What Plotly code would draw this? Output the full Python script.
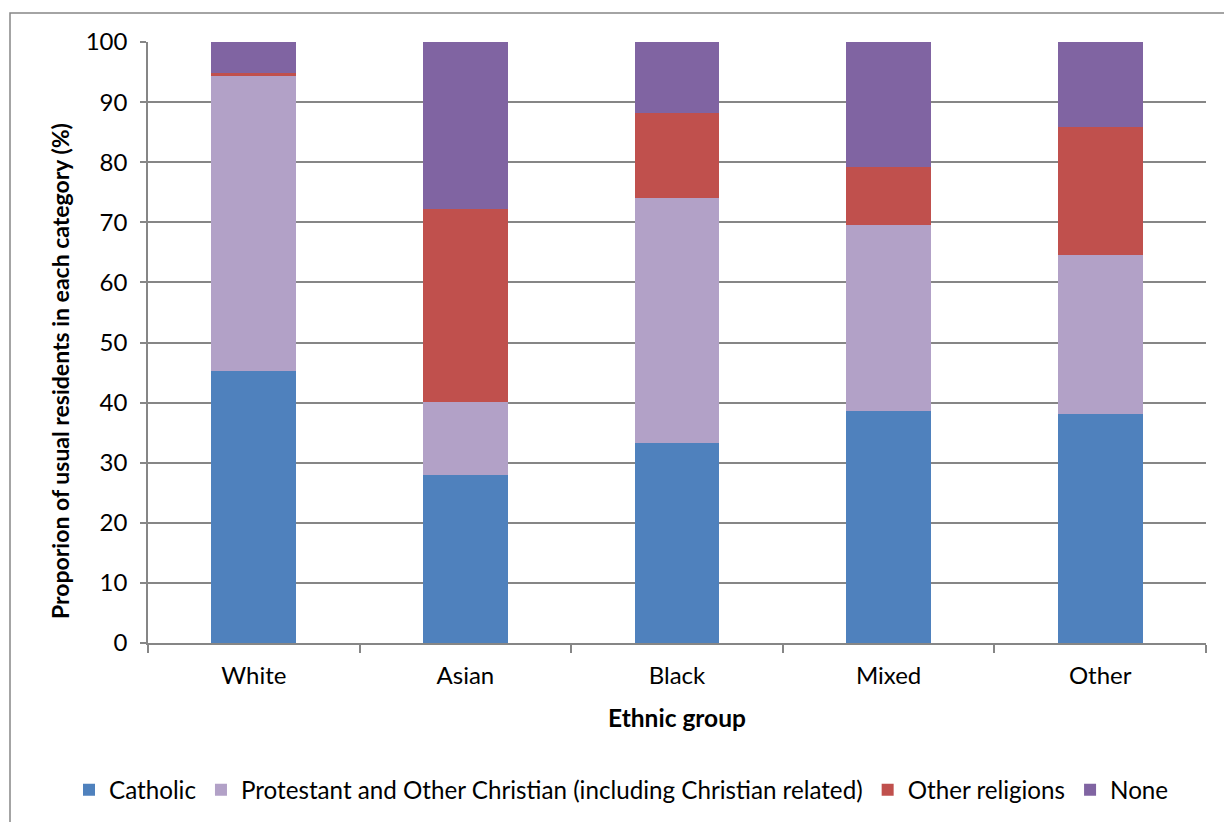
import plotly.graph_objects as go

groups = ["White", "Asian", "Black", "Mixed", "Other"]
catholic = [45.3, 28.0, 33.3, 38.6, 38.1]
protestant = [49.1, 12.1, 40.7, 31.0, 26.5]
other_rel = [0.5, 32.1, 14.2, 9.6, 21.3]
none = [5.1, 27.8, 11.8, 20.8, 14.1]

series = [
    ("Catholic", catholic, "#4F81BD"),
    ("Protestant and Other Christian (including Christian related)", protestant, "#B2A1C7"),
    ("Other religions", other_rel, "#C0504D"),
    ("None", none, "#8064A2"),
]

FONT = "Lato, 'Open Sans', sans-serif"

fig = go.Figure()
for name, vals, col in series:
    fig.add_trace(go.Bar(x=groups, y=vals, name=name, marker=dict(color=col, line=dict(width=0))))

fig.update_layout(
    width=1224, height=822,
    barmode="stack", bargap=0.6,
    plot_bgcolor="white", paper_bgcolor="white",
    margin=dict(l=148, r=18, t=42, b=179, autoexpand=False),
    font=dict(family=FONT, size=24, color="#000000"),
    legend=dict(orientation="h", x=(69 - 148) / 1058, xanchor="left",
                y=(643 - 790) / 601, yanchor="middle",
                font=dict(size=24.2), traceorder="normal", itemwidth=30),
    showlegend=True,
)
fig.update_yaxes(range=[0, 100], dtick=10, showgrid=True, gridcolor="#868686", gridwidth=1.5,
                 ticks="outside", ticklen=6, tickcolor="#868686", tickwidth=1.5,
                 showline=True, linecolor="#868686", linewidth=1.5,
                 tickfont=dict(size=24), ticklabelstandoff=8,
                 zeroline=False)
fig.update_xaxes(showline=True, linecolor="#868686", linewidth=1.5,
                 ticks="outside", ticklen=8, tickcolor="#868686", tickwidth=1.5,
                 tickson="boundaries", tickfont=dict(size=24), ticklabelstandoff=10,
                 title=dict(text="<b>Ethnic group</b>", font=dict(size=24.5), standoff=22))

# y-axis title (offset downward as in the reference)
fig.add_annotation(text="<b>Proporion of usual residents in each category (%)</b>",
                   xref="paper", yref="paper", x=(60 - 148) / 1058, y=(643 - 371) / 601,
                   xanchor="center", yanchor="middle", textangle=-90, showarrow=False,
                   font=dict(size=23))

# outer chart frame
fig.add_shape(type="rect", xref="paper", yref="paper",
              x0=(10 - 148) / 1058, x1=(1240 - 148) / 1058,
              y0=(643 - 840) / 601, y1=(643 - 13) / 601,
              line=dict(color="#868686", width=1.5), fillcolor="rgba(0,0,0,0)", layer="below")

fig.write_html("out.html", config={"displayModeBar": False},
               post_script="document.body.style.margin='0px';document.body.style.overflow='hidden';")
